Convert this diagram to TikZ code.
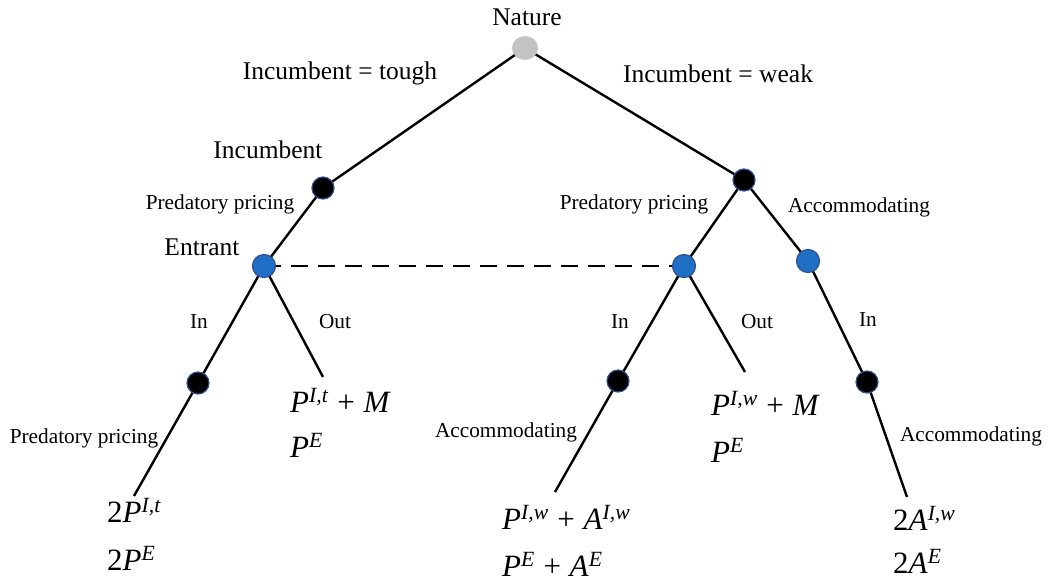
\documentclass[tikz,border=0pt]{standalone}
\usepackage{fontspec}
\setmainfont{Liberation Serif}
\usetikzlibrary{shapes.geometric}
\definecolor{nblue}{HTML}{1F6FC5}
\definecolor{nedge}{HTML}{2F4F8F}
\definecolor{ngray}{HTML}{C3C3C3}
\newcommand\psup[2]{\textit{#1}\textsuperscript{\textit{#2}}}
\newcommand\pplus{\hspace{0.28em}+\hspace{0.28em}}
\begin{document}
\begin{tikzpicture}[x=1pt,y=-1pt,
  chance/.style={ellipse,fill=ngray,minimum width=26,minimum height=24,inner sep=0},
  dec/.style={circle,fill=black,draw=nedge,line width=1.2,minimum size=22,inner sep=0},
  info/.style={circle,fill=nblue,draw=nedge,line width=1.2,minimum size=23,inner sep=0},
  edge/.style={line width=2.4,black},
  lbl/.style={font=\fontsize{25.5}{30}\selectfont,inner sep=0},
  slbl/.style={font=\fontsize{21.3}{25}\selectfont,inner sep=0},
  pay/.style={font=\fontsize{31}{36}\selectfont,inner sep=0,text depth=0pt,anchor=base west},
  ]
\useasboundingbox (0,0) rectangle (1052,582);
% node positions
\coordinate (N) at (525,48);
\coordinate (IT) at (323,188);
\coordinate (IW) at (744,180);
\coordinate (EL) at (264,266);
\coordinate (ER) at (684,266);
\coordinate (AR) at (808,261);
\coordinate (L2) at (198,383);
\coordinate (M2) at (618,381);
\coordinate (R2) at (867,382);
\coordinate (LO) at (323,377);
\coordinate (MO) at (745,372);
\coordinate (LE) at (134,496);
\coordinate (ME) at (555,492);
\coordinate (RE) at (907,497);
% edges
\draw[edge] (N) -- (IT);
\draw[edge] (N) -- (IW);
\draw[edge] (IT) -- (EL);
\draw[edge] (IW) -- (ER);
\draw[edge] (IW) -- (AR);
\draw[edge] (EL) -- (L2);
\draw[edge] (EL) -- (LO);
\draw[edge] (ER) -- (M2);
\draw[edge] (ER) -- (MO);
\draw[edge] (AR) -- (R2);
\draw[edge] (L2) -- (LE);
\draw[edge] (M2) -- (ME);
\draw[edge] (R2) -- (RE);
\draw[line width=2.6,dash pattern=on 17 off 10] (EL) -- (ER);
% nodes on top
\node[chance] (nN) at (N) {};
\node[dec] (nIT) at (IT) {};
\node[dec] (nIW) at (IW) {};
\node[info] (nEL) at (EL) {};
\node[info] (nER) at (ER) {};
\node[info] (nAR) at (AR) {};
\node[dec] (nL2) at (L2) {};
\node[dec] (nM2) at (M2) {};
\node[dec] (nR2) at (R2) {};
% labels
\node[lbl] (tN) at (527,17) {Nature};
\node[lbl] (tTough) at (340,73) {Incumbent = tough};
\node[lbl] (tWeak) at (718,74) {Incumbent = weak};
\node[lbl] (tInc) at (268,150) {Incumbent};
\node[lbl] (tEnt) at (202,247) {Entrant};
\node[slbl] (tPP1) at (220,204) {Predatory pricing};
\node[slbl] (tPP2) at (634,204) {Predatory pricing};
\node[slbl] (tAc1) at (859,207) {Accommodating};
\node[slbl] (tIn1) at (199,322) {In};
\node[slbl] (tOut1) at (335,322) {Out};
\node[slbl] (tIn2) at (620,322) {In};
\node[slbl] (tOut2) at (757,322) {Out};
\node[slbl] (tIn3) at (868,320) {In};
\node[slbl] (tPP3) at (84,438) {Predatory pricing};
\node[slbl] (tAc2) at (506,432) {Accommodating};
\node[slbl] (tAc3) at (971,436) {Accommodating};
% payoffs
\node[pay] (p1a) at (290,412) {\psup{P}{I,t}\pplus\textit{M}};
\node[pay] (p1b) at (290,457) {\psup{P}{E}};
\node[pay] (p2a) at (711,415) {\psup{P}{I,w}\pplus\textit{M}};
\node[pay] (p2b) at (711,462) {\psup{P}{E}};
\node[pay] (p3a) at (107,522) {2\psup{P}{I,t}};
\node[pay] (p3b) at (107,570) {2\psup{P}{E}};
\node[pay] (p4a) at (502,529) {\psup{P}{I,w}\pplus\psup{A}{I,w}};
\node[pay] (p4b) at (502,576) {\psup{P}{E}\pplus\psup{A}{E}};
\node[pay] (p5a) at (893,530) {2\psup{A}{I,w}};
\node[pay] (p5b) at (893,573) {2\psup{A}{E}};
\end{tikzpicture}
\end{document}
